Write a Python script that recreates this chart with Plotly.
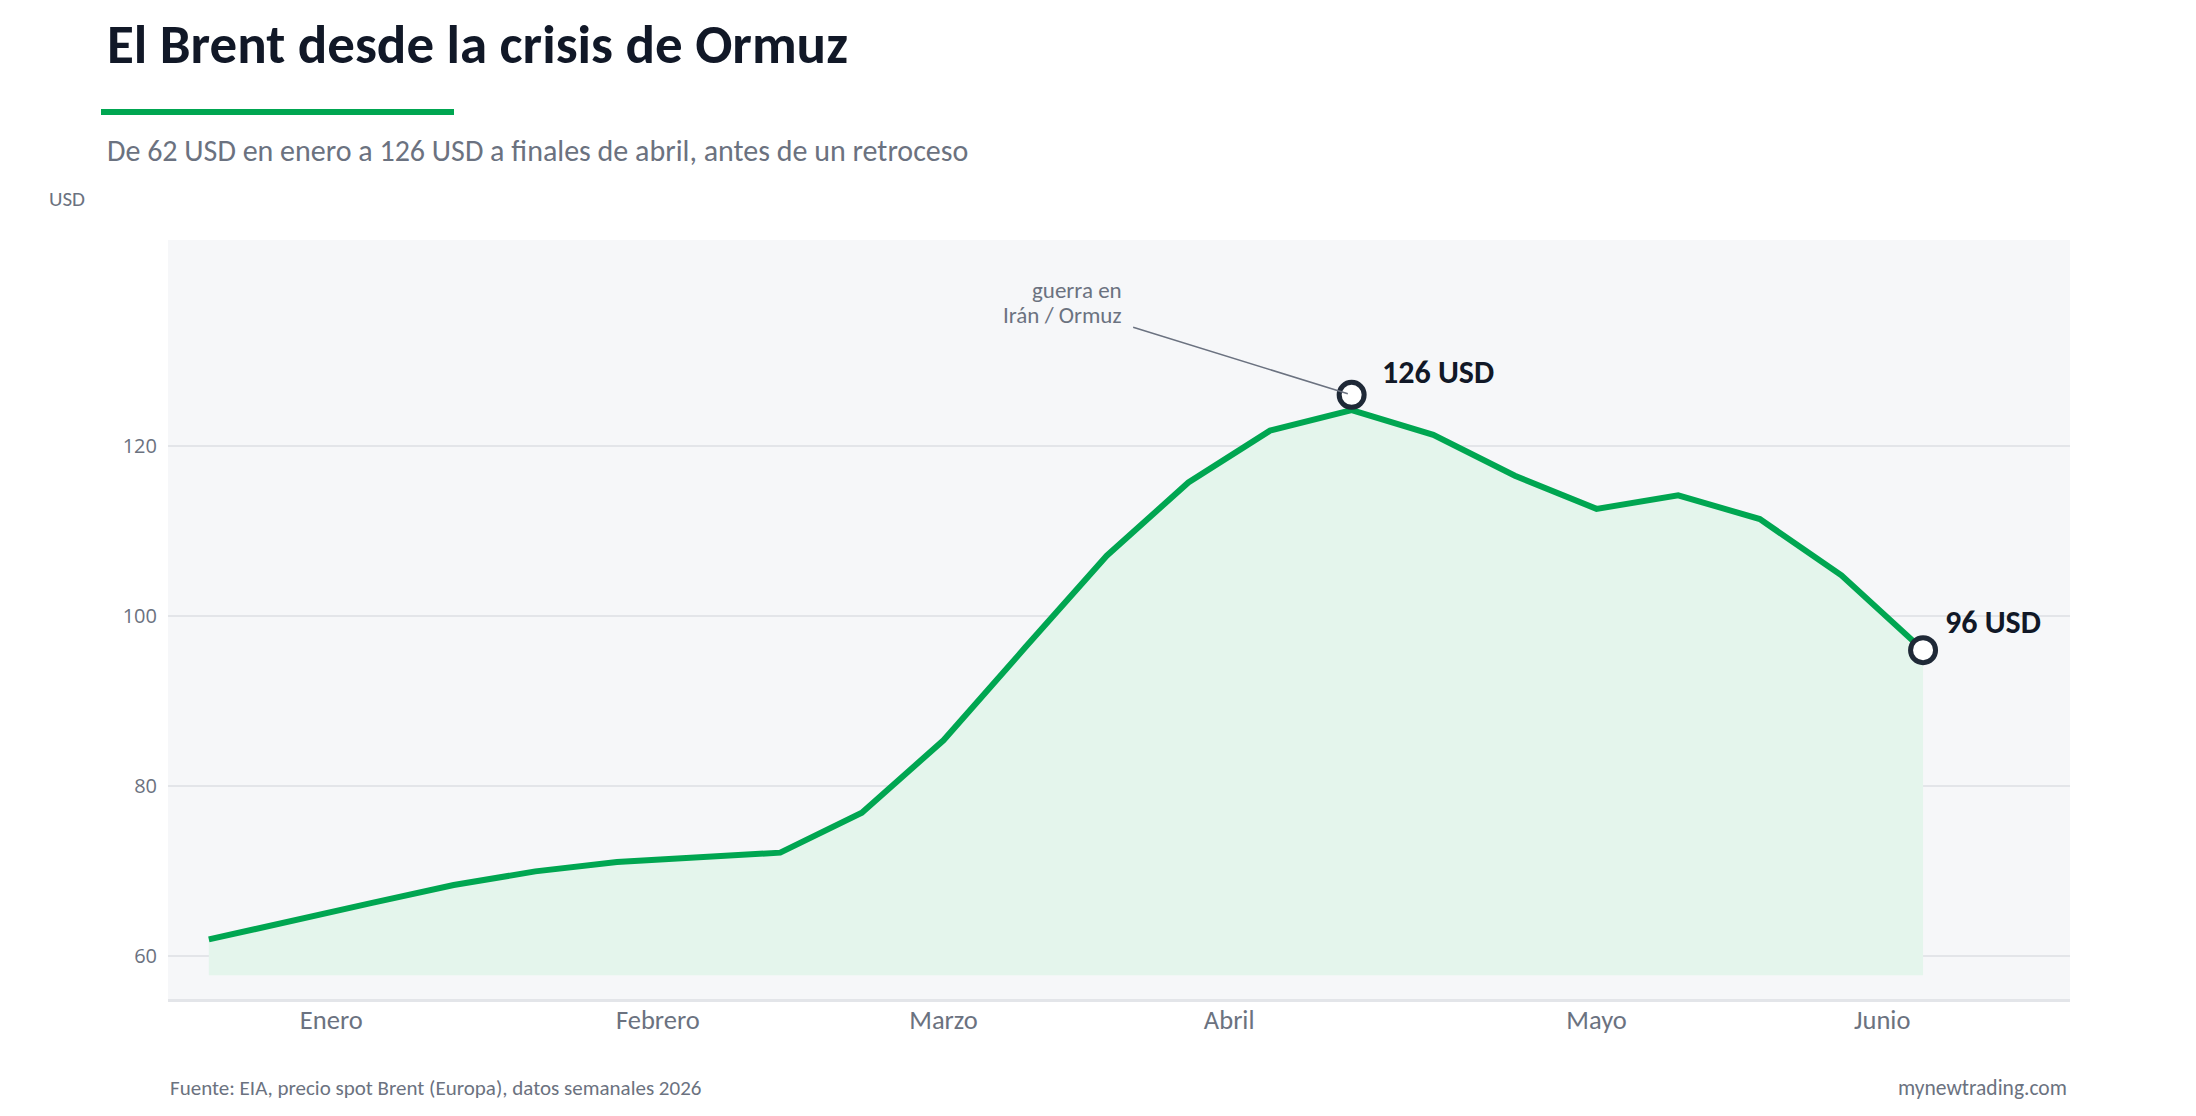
import plotly.graph_objects as go

# ---------------- data ----------------
week_index = list(range(22))
brent_weekly = [62.0, 64.2, 66.3, 68.4, 70.0, 71.1, 71.65, 72.2, 76.9, 85.4, 96.3,
                107.1, 115.7, 121.8, 124.2, 121.3, 116.5, 112.6, 114.2, 111.4, 104.8, 96.0]
month_ticks = [1.5, 5.5, 9, 12.5, 17, 20.5]
month_labels = ["Enero", "Febrero", "Marzo", "Abril", "Mayo", "Junio"]
y_ticks = [60, 80, 100, 120]
peak_x, peak_value, peak_label = 14, 126, "126 USD"
last_x, last_value, last_label = 21, 96, "96 USD"
event_lines = ["guerra en", "Irán / Ormuz"]
fill_base = 57.8

# ---------------- layout geometry ----------------
W, H = 2196, 1116
L, R, T, B = 168, 126, 240, 117
PW, PH = W - L - R, H - T - B


def px(x):
    return (x - L) / PW


def py(y):
    return (H - B - y) / PH


GREEN = "#00a651"
DARK = "#111827"
GRAY = "#6b7280"
TXT_FONT = "Calibri, Carlito, Lato, sans-serif"

fig = go.Figure()

fig.add_trace(go.Scatter(x=week_index, y=[fill_base] * len(week_index), mode="lines",
                         line=dict(width=0), hoverinfo="skip", showlegend=False))
fig.add_trace(go.Scatter(x=week_index, y=brent_weekly, mode="lines",
                         line=dict(color=GREEN, width=6), fill="tonexty",
                         fillcolor="#e4f5ec", showlegend=False))

annotations = [
    dict(x=px(105), y=py(45), xref="paper", yref="paper", xanchor="left", yanchor="middle",
         text="<b>El Brent desde la crisis de Ormuz</b>", showarrow=False,
         font=dict(family=TXT_FONT, size=55, color=DARK)),
    dict(x=px(105), y=py(150), xref="paper", yref="paper", xanchor="left", yanchor="middle",
         text="De 62 USD en enero a 126 USD a finales de abril, antes de un retroceso",
         showarrow=False, font=dict(family=TXT_FONT, size=30, color=GRAY)),
    dict(x=px(47), y=py(199), xref="paper", yref="paper", xanchor="left", yanchor="middle",
         text="USD", showarrow=False, font=dict(family=TXT_FONT, size=21, color=GRAY)),
    dict(x=px(168), y=py(1088), xref="paper", yref="paper", xanchor="left", yanchor="middle",
         text="Fuente: EIA, precio spot Brent (Europa), datos semanales 2026", showarrow=False,
         font=dict(family=TXT_FONT, size=21, color=GRAY)),
    dict(x=px(2069), y=py(1088), xref="paper", yref="paper", xanchor="right", yanchor="middle",
         text="mynewtrading.com", showarrow=False,
         font=dict(family=TXT_FONT, size=21.5, color=GRAY)),
    # leader line
    dict(x=peak_x, y=peak_value, xref="x", yref="y", text="",
         showarrow=True, arrowhead=0, arrowwidth=1.5, arrowcolor=GRAY, ax=-220, ay=-68,
         standoff=4),
    dict(x=peak_x, y=peak_value, xref="x", yref="y", text=event_lines[0],
         showarrow=False, xanchor="right", yanchor="middle", xshift=-228, yshift=105,
         font=dict(family=TXT_FONT, size=23, color=GRAY)),
    dict(x=peak_x, y=peak_value, xref="x", yref="y", text=event_lines[1],
         showarrow=False, xanchor="right", yanchor="middle", xshift=-228, yshift=80,
         font=dict(family=TXT_FONT, size=23, color=GRAY)),
    dict(x=peak_x, y=peak_value, xref="x", yref="y", text="<b>" + peak_label + "</b>",
         showarrow=False, xanchor="left", yanchor="middle", xshift=28, yshift=22,
         font=dict(family=TXT_FONT, size=32, color=DARK)),
    dict(x=last_x, y=last_value, xref="x", yref="y", text="<b>" + last_label + "</b>",
         showarrow=False, xanchor="left", yanchor="middle", xshift=20, yshift=28,
         font=dict(family=TXT_FONT, size=32, color=DARK)),
]

fig.add_trace(go.Scatter(x=[peak_x, last_x], y=[peak_value, last_value], mode="markers",
                         marker=dict(size=25, color="white",
                                     line=dict(color="#1f2937", width=5)),
                         showlegend=False))

shapes = [
    dict(type="rect", xref="paper", yref="paper", x0=px(101), x1=px(454), y0=py(115), y1=py(109),
         fillcolor=GREEN, line=dict(width=0)),
]

fig.update_layout(
    width=W, height=H,
    margin=dict(l=L, r=R, t=T, b=B),
    paper_bgcolor="white", plot_bgcolor="#f6f7f9",
    font=dict(family="Open Sans, sans-serif", color=GRAY),
    annotations=annotations, shapes=shapes,
    showlegend=False, hovermode=False,
)
fig.update_xaxes(range=[-0.5, 22.8], tickvals=month_ticks, ticktext=month_labels,
                 showgrid=False, zeroline=False, showline=True, linecolor="#e3e5e9",
                 linewidth=2.5, ticks="", ticklabelstandoff=-5,
                 tickfont=dict(family=TXT_FONT, size=26.5, color=GRAY))
fig.update_yaxes(range=[55, 144.2], tickvals=y_ticks, showgrid=True, gridcolor="#e3e5e9",
                 gridwidth=1.5, zeroline=False, showline=False, ticks="", ticklabelstandoff=10,
                 tickfont=dict(family="Open Sans, sans-serif", size=20, color=GRAY))

fig.write_html("out.html")
